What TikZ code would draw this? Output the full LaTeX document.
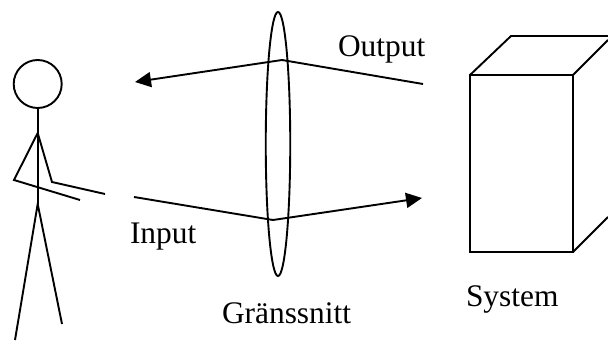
\documentclass[tikz,border=0pt]{standalone}
\usepackage{fontspec}
\setmainfont{Liberation Serif}
\usetikzlibrary{arrows.meta,shapes.geometric}
\begin{document}
\begin{tikzpicture}[x=1pt,y=-1pt,
  ln/.style={line width=1.9pt,black,line join=miter},
  flow/.style={line width=1.9pt,black,-{Triangle[length=16pt,width=15pt]}},
  lbl/.style={anchor=base west,inner sep=0pt,outer sep=0pt,font=\fontsize{31.4}{36}\selectfont}]
\useasboundingbox[fill=white] (0,0) rectangle (608,345);
% person
\draw[ln] (37.7,84) circle (24);
\coordinate (neck) at (37.7,108);
\coordinate (shoulder) at (37.7,133);
\coordinate (hip) at (37.7,204);
\draw[ln] (neck) -- (hip);
\draw[ln] (shoulder) -- (14,180) -- (80,200);
\draw[ln] (shoulder) -- (52,182) -- (105,194);
\draw[ln] (15,340) -- (hip) -- (62,324);
% interface
\node[draw,ellipse,line width=1.9pt,minimum width=24.5pt,minimum height=264pt,inner sep=0pt] (lens) at (278,144) {};
\coordinate (outS) at (423,84);
\coordinate (outM) at (282,60);
\coordinate (outE) at (135,82);
\coordinate (inS) at (134,197);
\coordinate (inM) at (273,220);
\coordinate (inE) at (422,198);
\draw[flow] (outS) -- (outM) -- (outE);
\draw[flow] (inS) -- (inM) -- (inE);
% system
\draw[ln] (470,75) rectangle (573,252);
\draw[ln] (470,75) -- (511,36) -- (608,36);
\draw[ln] (573,75) -- (608,40);
\draw[ln] (573,252) -- (608,217);
% labels
\node[lbl] (output) at (338,57) {Output};
\node[lbl] (input) at (130,243) {Input};
\node[lbl] (system) at (466,306) {System};
\node[lbl] (grans) at (222,323) {Gränssnitt};
\end{tikzpicture}
\end{document}
